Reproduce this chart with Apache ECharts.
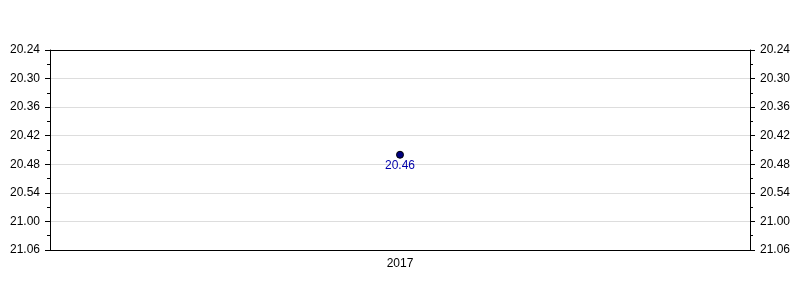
<!DOCTYPE html>
<html><head><meta charset="utf-8">
<script src="https://cdn.jsdelivr.net/npm/echarts@6/dist/echarts.min.js"></script>
<style>html,body{margin:0;padding:0;background:#fff}#c{width:800px;height:300px}</style>
</head><body><div id="c"></div>
<script>
const categories = ['2017'];
const values = [20.46];           // hh.mm
const yTicks = ['20.24','20.30','20.36','20.42','20.48','20.54','21.00','21.06'];

function toMin(v){ const h=Math.floor(v); return h*60+Math.round((v-h)*100); }
function fmt(m){ const h=Math.floor(m/60), mm=Math.round(m-h*60); return h+'.'+(mm<10?'0':'')+mm; }
const yMin = toMin(parseFloat(yTicks[0]));
const yMax = toMin(parseFloat(yTicks[yTicks.length-1]));
const font = 'Liberation Sans, Arial, sans-serif';

function yAxis(pos){
  return {
    type:'value', position:pos, inverse:true, min:yMin, max:yMax, interval:6,
    axisLine:{show:true, lineStyle:{color:'#000'}},
    axisTick:{show:true, length:5, lineStyle:{color:'#000'}},
    minorTick:{show:true, splitNumber:2, length:3, lineStyle:{color:'#000'}},
    splitLine:{show:pos==='left', lineStyle:{color:'#dddddd'}},
    axisLabel:{color:'#000', fontSize:12, fontFamily:font, margin:10, formatter:v=>fmt(v)}
  };
}
const chart = echarts.init(document.getElementById('c'), null, {renderer:'canvas'});
chart.setOption({
  animation:false,
  grid:{left:50, right:50, top:50, bottom:50},
  xAxis:[{type:'category', data:categories,
    axisLine:{lineStyle:{color:'#000'}},
    axisTick:{alignWithLabel:true, length:5, lineStyle:{color:'#000'}},
    axisLabel:{color:'#000', fontSize:12, fontFamily:font, margin:8}},
    {type:'category', data:categories, position:'top',
    axisLine:{show:true, lineStyle:{color:'#000'}},
    axisTick:{show:false}, axisLabel:{show:false}, splitLine:{show:false}}],
  yAxis:[yAxis('left'), yAxis('right')],
  series:[{type:'line', data:values.map(toMin), symbol:'circle', symbolSize:7,
    itemStyle:{color:'#000080', borderColor:'#000', borderWidth:1},
    label:{show:true, position:'bottom', distance:1, color:'#0000aa', fontSize:12, fontFamily:font,
      formatter:p=>fmt(p.value)}}]
});
</script></body></html>
